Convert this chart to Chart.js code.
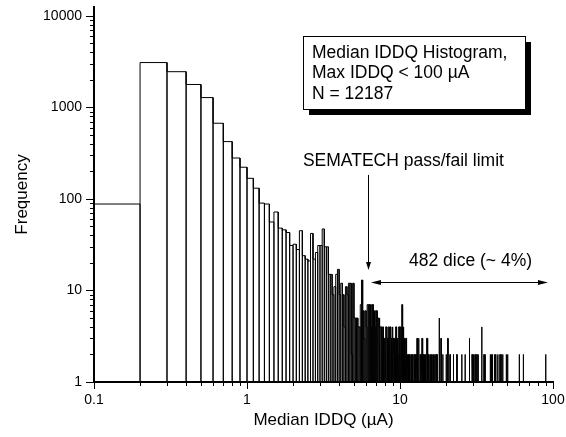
<!DOCTYPE html>
<html>
<head>
<meta charset="utf-8">
<script src="https://cdn.jsdelivr.net/npm/chart.js@4.4.1/dist/chart.umd.min.js"></script>
<style>
  html, body { margin: 0; padding: 0; background: #fff; }
</style>
</head>
<body>
<canvas id="histChart" width="566" height="437"></canvas>
<script>
// Histogram of median IDDQ, bin width 0.1 uA
const binWidth = 0.1;

// contiguous bins starting at 0.1 uA (0.1-0.2, 0.2-0.3, ... 10.9-11.0)
const mainCounts = [
  88, 3090, 2455, 1780, 1280, 671, 423, 280, 222, 168,
  131, 90, 88, 56, 72, 48, 46, 43, 31, 32,
  28, 45, 24, 22, 21, 42, 22, 26, 31, 31,
  47, 30, 30, 15, 15, 9, 11, 15, 17, 9,
  12, 9, 4, 11, 9, 12, 12, 2, 12, 5,
  5, 5, 4, 4, 7, 13, 6, 3, 6, 4,
  7, 7, 7, 4, 7, 7, 6, 4, 6, 6,
  5, 5, 5, 4, 4, 3, 4, 3, 3, 4,
  4, 3, 3, 4, 3, 4, 3, 3, 4, 3,
  2, 3, 3, 4, 3, 3, 2, 4, 4, 3,
  4, 3, 7, 3, 4, 3, 2, 3, 3, 2
];

// sparse tail above 11 uA (only bins with more than one die are visible)
const tailStarts = [
  11.2, 11.4, 11.5, 11.7, 11.9, 12.0, 12.2, 12.3, 12.5, 12.7,
  12.9, 13.0, 13.2, 13.4, 13.5, 13.7, 13.9, 14.1, 14.2, 14.4,
  14.6, 14.8, 15.0, 15.2, 15.3, 15.6, 15.8, 16.0, 16.3, 16.5,
  16.8, 17.1, 17.4, 18.0, 18.5, 19.0, 20.0, 20.5, 21.2, 22.3,
  23.5, 25.3, 26.6, 28.4, 29.5, 29.9, 30.2, 30.8, 31.3, 31.9,
  32.4, 34.2, 35.4, 36.0, 38.9, 39.6, 40.2, 41.5, 42.0, 43.1,
  44.4, 45.2, 45.7, 46.9, 49.5, 50.5, 60.2, 64.0, 89.6
];
const tailCounts = [
  2, 2, 2, 2, 2, 2, 2, 2, 2, 2,
  3, 2, 3, 2, 2, 2, 3, 2, 2, 2,
  2, 2, 3, 2, 2, 2, 2, 2, 2, 2,
  2, 2, 2, 5, 3, 2, 2, 3, 2, 2,
  2, 2, 2, 3, 2, 2, 2, 2, 2, 2,
  2, 4, 2, 2, 2, 2, 2, 2, 2, 2,
  2, 2, 2, 2, 2, 2, 2, 2, 2
];

const xTickLabels = ["0.1", "1", "10", "100"];
const yTickLabels = ["1", "10", "100", "1000", "10000"];

// annotation anchors in data units
const infoLines = ["Median IDDQ Histogram,", "Max IDDQ < 100 \u00b5A", "N = 12187"];
const infoBox = { x0: 2.32, x1: 65.6, yTop: 6040, yBottom: 963 };
const limitLabel = { text: "SEMATECH pass/fail limit", x: 2.32, y: 256 };
const limitArrow = { x: 6.18, yFrom: 183, yTo: 16.7 };
const spanArrow = { y: 12.4, xFrom: 6.46, xTo: 92.7 };
const spanLabel = { text: "482 dice (~ 4%)", x: 28.9, y: 21 };

const FONT = "Arial, 'Liberation Sans', sans-serif";

// build the histogram outline from the bins
const bins = [];
mainCounts.forEach((n, i) => bins.push({ lo: (i + 1) * binWidth, n }));
tailStarts.forEach((lo, i) => bins.push({ lo, n: tailCounts[i] }));

const outline = [];
bins.forEach((b) => {
  const hi = b.lo + binWidth;
  outline.push({ x: b.lo, y: 1 }, { x: b.lo, y: b.n }, { x: hi, y: b.n }, { x: hi, y: 1 });
});

const isDecade = (v) => Math.abs(Math.log10(v) - Math.round(Math.log10(v))) < 1e-9;
const isWholeStep = (v) => {
  const s = v / Math.pow(10, Math.floor(Math.log10(v) + 1e-9));
  return Math.abs(s - Math.round(s)) < 1e-6;
};

// outward tick marks, long on decades, short in between
const tickMarks = {
  id: "tickMarks",
  afterDraw(chart) {
    const { ctx, scales: { x, y } } = chart;
    ctx.save();
    ctx.strokeStyle = "#000";
    ctx.lineWidth = 1;
    ctx.beginPath();
    x.ticks.forEach((t) => {
      if (!isWholeStep(t.value)) return;
      const px = Math.round(x.getPixelForValue(t.value)) + 0.5;
      const len = isDecade(t.value) ? 7 : 4;
      ctx.moveTo(px, x.top);
      ctx.lineTo(px, x.top + len);
    });
    y.ticks.forEach((t) => {
      if (!isWholeStep(t.value)) return;
      const py = Math.round(y.getPixelForValue(t.value)) + 0.5;
      const len = isDecade(t.value) ? 8 : 4;
      ctx.moveTo(y.right, py);
      ctx.lineTo(y.right - len, py);
    });
    ctx.stroke();
    ctx.restore();
  }
};

function arrowHead(ctx, tipX, tipY, dx, dy, len, half) {
  // dx, dy: unit direction the arrow points to
  ctx.beginPath();
  ctx.moveTo(tipX, tipY);
  ctx.lineTo(tipX - dx * len - dy * half, tipY - dy * len + dx * half);
  ctx.lineTo(tipX - dx * len + dy * half, tipY - dy * len - dx * half);
  ctx.closePath();
  ctx.fill();
}

const annotate = {
  id: "annotate",
  afterDraw(chart) {
    const { ctx, scales: { x, y } } = chart;
    ctx.save();
    ctx.fillStyle = "#000";
    ctx.strokeStyle = "#000";

    // info box with drop shadow
    const bl = Math.round(x.getPixelForValue(infoBox.x0));
    const br = Math.round(x.getPixelForValue(infoBox.x1));
    const bt = Math.round(y.getPixelForValue(infoBox.yTop));
    const bb = Math.round(y.getPixelForValue(infoBox.yBottom));
    ctx.fillRect(bl + 6, bt + 6, br - bl, bb - bt);
    ctx.fillStyle = "#fff";
    ctx.fillRect(bl, bt, br - bl, bb - bt);
    ctx.lineWidth = 1;
    ctx.strokeRect(bl + 0.5, bt + 0.5, br - bl, bb - bt);
    ctx.fillStyle = "#000";
    ctx.font = "17.5px " + FONT;
    ctx.textAlign = "left";
    ctx.textBaseline = "middle";
    infoLines.forEach((line, i) => ctx.fillText(line, bl + 9, bt + 17 + i * 20.5));

    // pass/fail limit label and arrow
    ctx.fillText(limitLabel.text, x.getPixelForValue(limitLabel.x), y.getPixelForValue(limitLabel.y));
    const ax = Math.round(x.getPixelForValue(limitArrow.x)) + 0.5;
    const ay0 = y.getPixelForValue(limitArrow.yFrom);
    const ay1 = y.getPixelForValue(limitArrow.yTo);
    ctx.beginPath();
    ctx.moveTo(ax, ay0);
    ctx.lineTo(ax, ay1 - 6);
    ctx.stroke();
    arrowHead(ctx, ax, ay1, 0, 1, 8, 2.5);

    // double arrow over the tail
    const hy = Math.round(y.getPixelForValue(spanArrow.y)) + 0.5;
    const hx0 = x.getPixelForValue(spanArrow.xFrom);
    const hx1 = x.getPixelForValue(spanArrow.xTo);
    ctx.beginPath();
    ctx.moveTo(hx0 + 6, hy);
    ctx.lineTo(hx1 - 6, hy);
    ctx.stroke();
    arrowHead(ctx, hx0, hy, -1, 0, 10, 2.5);
    arrowHead(ctx, hx1, hy, 1, 0, 10, 2.5);

    ctx.textAlign = "center";
    ctx.fillText(spanLabel.text, x.getPixelForValue(spanLabel.x), y.getPixelForValue(spanLabel.y));
    ctx.restore();
  }
};

new Chart(document.getElementById("histChart"), {
  type: "scatter",
  data: {
    datasets: [{
      label: "Median IDDQ",
      data: outline,
      showLine: true,
      borderColor: "#000",
      borderWidth: 1,
      pointRadius: 0,
      fill: false,
      tension: 0
    }]
  },
  options: {
    responsive: false,
    animation: false,
    devicePixelRatio: 1,
    layout: { padding: { top: 7, right: 13, left: 0, bottom: 0 } },
    plugins: {
      legend: { display: false },
      tooltip: { enabled: false }
    },
    scales: {
      x: {
        type: "logarithmic",
        min: 0.1,
        max: 100,
        border: { color: "#000", width: 2 },
        grid: { drawOnChartArea: false, drawTicks: true, tickLength: 7, color: "rgba(0,0,0,0)" },
        ticks: {
          autoSkip: false,
          maxRotation: 0,
          padding: 3,
          color: "#000",
          font: { family: FONT, size: 14 },
          callback: (v) => {
            if (!isDecade(v)) return "";
            return xTickLabels[Math.round(Math.log10(v)) + 1];
          }
        },
        title: {
          display: true,
          text: "Median IDDQ (\u00b5A)",
          color: "#000",
          font: { family: FONT, size: 17 },
          padding: { top: 0, bottom: 6 }
        },
        afterFit: (s) => { s.height = 55; s.paddingLeft = 0; s.paddingRight = 0; }
      },
      y: {
        type: "logarithmic",
        min: 1,
        max: 12500,
        border: { color: "#000", width: 2 },
        grid: { drawOnChartArea: false, drawTicks: true, tickLength: 8, color: "rgba(0,0,0,0)" },
        ticks: {
          autoSkip: false,
          padding: 4,
          color: "#000",
          font: { family: FONT, size: 14 },
          callback: (v) => {
            if (!isDecade(v)) return "";
            return yTickLabels[Math.round(Math.log10(v))] || "";
          }
        },
        title: {
          display: true,
          text: "Frequency",
          color: "#000",
          font: { family: FONT, size: 17 },
          padding: { top: 12, bottom: 0 }
        },
        afterFit: (s) => { s.width = 94; s.paddingTop = 0; s.paddingBottom = 0; }
      }
    }
  },
  plugins: [tickMarks, annotate]
});
</script>
</body>
</html>
